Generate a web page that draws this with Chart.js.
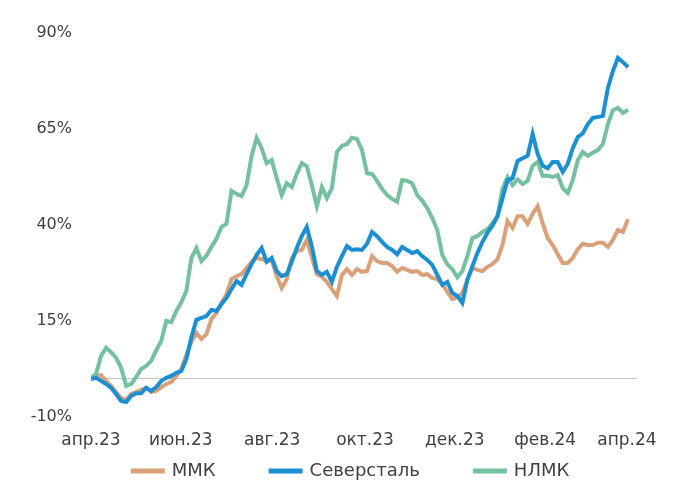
<!DOCTYPE html>
<html>
<head>
<meta charset="utf-8">
<script src="https://cdn.jsdelivr.net/npm/chart.js@4.4.0/dist/chart.umd.min.js"></script>
<style>
  html, body { margin: 0; padding: 0; background: #fff; }
  canvas { display: block; }
</style>
</head>
<body>
<canvas id="steelChart" width="689" height="492"></canvas>
<script>
// подписи оси X и их положение (в номерах точек)
const monthLabels = ['апр.23', 'июн.23', 'авг.23', 'окт.23', 'дек.23', 'фев.24', 'апр.24'];
const monthPos = [0, 17.9, 36.1, 54.6, 72.5, 90.5, 106.8];
const yTicks = [-10, 15, 40, 65, 90];

// доходность с начала периода, %
const mmk = [
  0.2, 0.7, 0.9, -0.6, -1.9, -3.5, -5.1, -5.6, -4.0, -3.5,
  -2.9, -2.4, -3.5, -3.2, -2.2, -1.4, -0.9, 0.7, 2.5, 6.1,
  9.5, 11.9, 10.3, 11.6, 15.5, 17.1, 19.7, 22.0, 25.9, 26.7,
  27.2, 28.8, 30.4, 31.4, 31.1, 30.6, 30.9, 26.7, 23.6, 25.9,
  31.4, 33.2, 33.5, 36.1, 31.6, 27.2, 26.5, 25.2, 23.3, 21.5,
  27.0, 28.5, 27.0, 28.5, 27.8, 28.0, 31.9, 30.6, 30.1, 30.1,
  29.3, 27.8, 28.8, 28.3, 27.8, 28.0, 27.0, 27.2, 26.2, 25.9,
  24.6, 22.6, 20.7, 21.2, 22.3, 25.7, 28.8, 28.3, 28.0, 29.1,
  29.8, 31.1, 34.8, 41.0, 39.2, 42.3, 42.3, 40.3, 42.9, 44.9,
  40.5, 36.6, 34.8, 32.4, 30.1, 30.1, 31.4, 33.7, 35.1, 34.8,
  34.8, 35.4, 35.4, 34.3, 36.1, 38.7, 38.2, 41.5
];
const severstal = [
  -0.1, 0.2, -0.6, -1.4, -2.4, -4.0, -5.8, -6.1, -4.5, -3.8,
  -3.8, -2.4, -3.2, -2.2, -0.6, 0.2, 0.7, 1.5, 2.0, 5.1,
  10.8, 15.3, 15.8, 16.3, 17.9, 17.6, 19.4, 21.0, 23.3, 25.4,
  24.4, 27.2, 29.8, 32.2, 34.0, 30.4, 31.4, 28.0, 26.7, 27.2,
  30.4, 34.0, 37.1, 39.5, 34.5, 28.0, 27.0, 27.8, 25.2, 29.1,
  31.9, 34.5, 33.5, 33.7, 33.5, 35.1, 38.2, 37.1, 35.6, 34.3,
  33.5, 32.4, 34.3, 33.5, 32.7, 33.2, 31.9, 30.9, 29.6, 27.0,
  24.4, 25.2, 22.3, 21.5, 19.7, 25.7, 29.3, 32.7, 35.6, 38.0,
  39.8, 42.3, 47.0, 51.7, 52.2, 56.7, 57.4, 58.0, 63.7, 58.5,
  55.4, 54.8, 56.4, 56.4, 53.8, 55.9, 60.0, 62.9, 63.9, 66.3,
  67.9, 68.1, 68.4, 75.7, 80.1, 83.5, 82.4, 81.1
];
const nlmk = [
  0.2, 1.2, 5.9, 8.0, 6.9, 5.4, 2.8, -1.9, -1.4, 0.4,
  2.5, 3.3, 4.6, 7.4, 9.8, 15.0, 14.7, 17.6, 19.9, 22.8,
  31.4, 34.0, 30.6, 32.0, 34.3, 36.4, 39.5, 40.3, 48.9, 48.1,
  47.5, 50.4, 58.0, 62.7, 60.0, 56.1, 56.9, 52.2, 47.8, 50.9,
  49.9, 53.3, 56.1, 55.3, 50.4, 44.9, 49.9, 47.0, 49.6, 59.0,
  60.6, 61.1, 62.7, 62.4, 59.5, 53.5, 53.3, 51.5, 49.4, 47.8,
  46.8, 46.0, 51.7, 51.5, 50.9, 47.8, 46.3, 44.4, 41.8, 38.7,
  32.2, 29.8, 28.5, 26.4, 28.0, 31.9, 36.6, 37.1, 38.2, 38.9,
  40.5, 42.3, 49.4, 52.5, 50.4, 51.9, 50.7, 51.5, 55.4, 56.4,
  52.8, 52.8, 52.5, 53.0, 49.6, 48.3, 51.7, 56.9, 59.0, 58.0,
  58.8, 59.5, 61.1, 66.3, 69.9, 70.5, 69.2, 70.0
];

const textColor = '#404040';
const yFont = { family: 'DejaVu Sans', size: 16 };
const xFont = { family: 'DejaVu Sans', size: 17 };
const legendFont = { family: 'DejaVu Sans', size: 18 };

// легенду ставим вручную: центр по x и по y как на картинке
const legendCenterX = 351;
const legendCenterY = 471;
const moveLegend = {
  id: 'moveLegend',
  afterLayout(chart) {
    const lg = chart.legend;
    const pad = lg.options.labels.padding;
    const w = lg.width;
    lg.left = legendCenterX - w / 2;
    lg.right = lg.left + w;
    lg.top = legendCenterY - pad - legendFont.size / 2;
    lg.bottom = chart.height;
    lg.height = lg.bottom - lg.top;
  }
};

function line(label, data, color, order) {
  return {
    label: label,
    data: data,
    borderColor: color,
    backgroundColor: color,
    borderWidth: 4,
    pointRadius: 0,
    tension: 0,
    order: order
  };
}

new Chart(document.getElementById('steelChart'), {
  type: 'line',
  data: {
    labels: mmk.map((_, i) => i),
    datasets: [
      line('ММК', mmk, '#daa07a', 3),
      line('Северсталь', severstal, '#1b8fd2', 1),
      line('НЛМК', nlmk, '#74c09f', 2)
    ]
  },
  plugins: [moveLegend],
  options: {
    responsive: false,
    animation: false,
    devicePixelRatio: 1,
    layout: { padding: { top: 33, right: 52, bottom: 0, left: 0 } },
    plugins: {
      tooltip: { enabled: false },
      legend: {
        position: 'bottom',
        maxHeight: 40,
        labels: {
          boxWidth: 30,
          boxHeight: 1,
          padding: 55,
          color: textColor,
          font: legendFont,
          sort: (a, b) => a.datasetIndex - b.datasetIndex
        }
      }
    },
    scales: {
      x: {
        type: 'linear',
        min: 0,
        max: 108.8,
        afterBuildTicks: s => { s.ticks = monthPos.map(v => ({ value: v })); },
        afterFit: s => { s.height = 35; },
        grid: { display: false, drawTicks: false },
        border: { display: false },
        ticks: {
          autoSkip: false,
          maxRotation: 0,
          padding: 13,
          color: textColor,
          font: xFont,
          callback: (v, i) => monthLabels[i]
        }
      },
      y: {
        min: -10,
        max: 90,
        afterBuildTicks: s => {
          s.ticks = [...yTicks, 0].sort((a, b) => a - b).map(v => ({ value: v }));
        },
        afterFit: s => { s.width = 91; },
        grid: {
          drawTicks: false,
          lineWidth: 1,
          color: c => (c.tick && c.tick.value === 0 ? '#c4c4c4' : 'rgba(0,0,0,0)')
        },
        border: { display: false },
        ticks: {
          padding: 19,
          color: textColor,
          font: yFont,
          callback: v => (v === 0 ? '' : v + '%')
        }
      }
    }
  }
});
</script>
</body>
</html>
